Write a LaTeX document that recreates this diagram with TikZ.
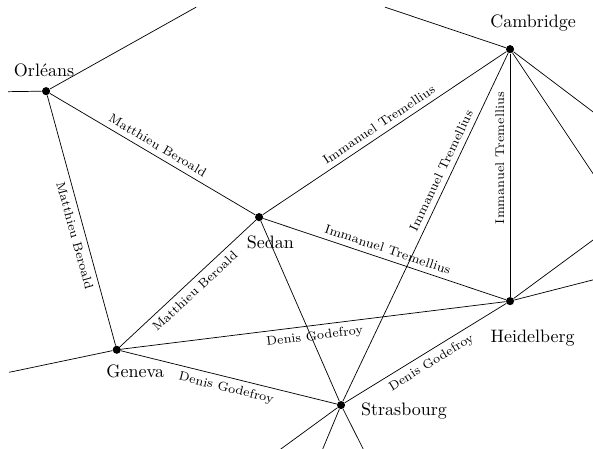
\documentclass[tikz,border=0pt]{standalone}

\tikzset{
    town/.style={circle,fill,inner sep=0pt,minimum size=4.5pt},
    link/.style={font=\scriptsize,sloped,midway,inner sep=3pt},
}

\begin{document}
\begin{tikzpicture}
        \useasboundingbox (0,0) rectangle (11.58,-8.75);
        \clip (0,0) rectangle (11.58,-8.75);

        % towns
        \node[town] (orl) at (0.90,-1.78) {};
        \node[town] (cam) at (9.96,-0.96) {};
        \node[town] (sed) at (5.06,-4.24) {};
        \node[town] (hei) at (9.96,-5.88) {};
        \node[town] (gen) at (2.28,-6.83) {};
        \node[town] (str) at (6.66,-7.91) {};

        \node (orlname) at (0.86,-1.38) {Orl\'eans};
        \node (camname) at (10.41,-0.44) {Cambridge};
        \node (sedname) at (5.28,-4.73) {Sedan};
        \node (heiname) at (10.40,-6.61) {Heidelberg};
        \node (genname) at (2.64,-7.25) {Geneva};
        \node (strname) at (7.89,-8.03) {Strasbourg};

        % loose ends, to places off the map
        \coordinate (orlw) at (0.16,-1.79);
        \coordinate (orlne) at (3.83,-0.14);
        \coordinate (camnw) at (7.52,-0.14);
        \coordinate (came) at (12.50,-2.88);
        \coordinate (east) at (12.16,-4.26);
        \coordinate (heie) at (12.50,-5.23);
        \coordinate (genw) at (0.18,-7.27);
        \coordinate (strsw) at (4.92,-9.18);
        \coordinate (strs) at (6.13,-9.18);
        \coordinate (strse) at (7.30,-9.18);

        \draw (orl) -- (orlw);
        \draw (orl) -- (orlne);
        \draw (cam) -- (camnw);
        \draw (cam) -- (came);
        \draw (cam) -- (east);
        \draw (hei) -- (east);
        \draw (hei) -- (heie);
        \draw (gen) -- (genw);
        \draw (str) -- (strsw);
        \draw (str) -- (strs);
        \draw (str) -- (strse);

        % letters
        \draw (orl) -- node[link,above] {Matthieu Beroald} (sed);
        \draw (orl) -- node[link,below,pos=0.55] {Matthieu Beroald} (gen);
        \draw (gen) -- node[link,below] {Matthieu Beroald} (sed);
        \draw (sed) -- node[link,above] {Immanuel Tremellius} (cam);
        \draw (sed) -- node[link,above] {Immanuel Tremellius} (hei);
        \draw (sed) -- (str);
        \draw (str) -- node[link,above,pos=0.65] {Immanuel Tremellius} (cam);
        \draw (hei) -- node[link,above,pos=0.57] {Immanuel Tremellius} (cam);
        \draw (gen) -- node[link,below] {Denis Godefroy} (hei);
        \draw (gen) -- node[link,below] {Denis Godefroy} (str);
        \draw (str) -- node[link,below] {Denis Godefroy} (hei);
    \end{tikzpicture}
\end{document}
